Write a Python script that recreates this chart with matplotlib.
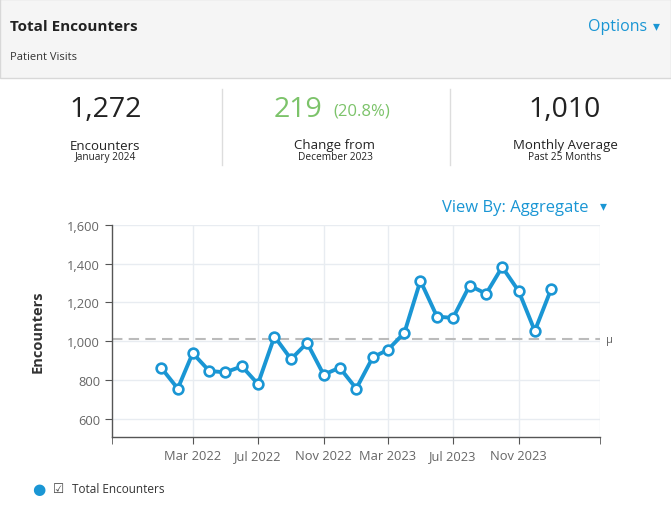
import matplotlib
matplotlib.use("Agg")
import matplotlib.pyplot as plt
from matplotlib.patches import Rectangle
from datetime import datetime
import numpy as np

plt.rcParams['font.family'] = ['Open Sans', 'DejaVu Sans']

# data
months = [datetime(2022, m, 1) for m in range(1, 13)] + \
         [datetime(2023, m, 1) for m in range(1, 13)] + [datetime(2024, 1, 1)]
encounters = [863, 755, 938, 846, 839, 870, 779, 1024, 907, 991, 827, 863,
              755, 917, 955, 1043, 1312, 1127, 1120, 1287, 1245, 1383, 1258, 1053, 1272]
tick_dates = [datetime(2022, 3, 1), datetime(2022, 7, 1), datetime(2022, 11, 1),
              datetime(2023, 3, 1), datetime(2023, 7, 1), datetime(2023, 11, 1)]
tick_labels = ["Mar 2022", "Jul 2022", "Nov 2022", "Mar 2023", "Jul 2023", "Nov 2023"]
y_ticks = [600, 800, 1000, 1200, 1400, 1600]

W, H = 671, 506
fig = plt.figure(figsize=(W / 100, H / 100), dpi=100)


def px(x, y):
    return x / W, 1 - y / H


BLUE = '#1a96d4'
GREEN = '#7cc36a'
DARK = '#222222'

# header panel
fig.patches.append(Rectangle(px(0, 79), 1, 79 / H, transform=fig.transFigure,
                             facecolor='#f5f5f5', edgecolor='#d8d8d8', lw=1))
fig.text(*px(10, 27), "Total Encounters", fontsize=11, fontweight='bold', color=DARK, va='center')
fig.text(*px(647, 27), "Options", fontsize=11.5, color=BLUE, va='center', ha='right')
fig.text(*px(660, 26), "\u25be", fontsize=10, color=BLUE, va='center', ha='right', family='DejaVu Sans')
fig.text(*px(10, 57), "Patient Visits", fontsize=8, color='#333333', va='center')

# stats row
fig.text(*px(106, 110), "1,272", fontsize=20.5, color=DARK, va='center', ha='center')
fig.text(*px(105, 146), "Encounters", fontsize=9.5, color=DARK, va='center', ha='center')
fig.text(*px(105, 158), "January 2024", fontsize=7.3, color=DARK, va='center', ha='center')

fig.text(*px(298, 110), "219", fontsize=20.5, color=GREEN, va='center', ha='center')
fig.text(*px(362, 112), "(20.8%)", fontsize=12, color=GREEN, va='center', ha='center')
fig.text(*px(335, 146), "Change from", fontsize=9.5, color=DARK, va='center', ha='center')
fig.text(*px(335, 158), "December 2023", fontsize=7.3, color=DARK, va='center', ha='center')

fig.text(*px(565, 110), "1,010", fontsize=20.5, color=DARK, va='center', ha='center')
fig.text(*px(565, 146), "Monthly Average", fontsize=9.5, color=DARK, va='center', ha='center')
fig.text(*px(565, 158), "Past 25 Months", fontsize=7.3, color=DARK, va='center', ha='center')

for xs in (222, 450):
    fig.add_artist(plt.Line2D([xs / W, xs / W], [1 - 90 / H, 1 - 166 / H],
                              transform=fig.transFigure, color='#dddddd', lw=1))

fig.text(*px(588, 208), "View By: Aggregate", fontsize=12, color=BLUE, va='center', ha='right')
fig.text(*px(607, 206), "\u25be", fontsize=10, color=BLUE, va='center', ha='right', family='DejaVu Sans')

# chart
ax = fig.add_axes([112 / W, 1 - 438 / H, (600 - 112) / W, (438 - 226) / H])
ax.plot(months, encounters, color=BLUE, lw=2.8, marker='o', ms=7,
        mfc='white', mec=BLUE, mew=1.9, zorder=3)
ax.axhline(np.mean(encounters), color='#bbbbbb', lw=1.5, ls=(0, (5, 3)), zorder=2)
ax.text(1.012, np.mean(encounters), "\u03bc", transform=ax.get_yaxis_transform(),
        fontsize=8, color='#666666', va='center', ha='left')

ax.set_xlim(datetime(2021, 10, 1), datetime(2024, 4, 1))
ax.set_ylim(505, 1600)
ax.set_xticks(tick_dates)
ax.set_xticklabels(tick_labels)
ax.set_xticks([datetime(2021, 10, 1), datetime(2024, 4, 1)], minor=True)
ax.set_yticks(y_ticks)
ax.set_yticklabels([f"{v:,}" for v in y_ticks])
ax.grid(True, color='#e8ecf1', lw=1)
ax.set_axisbelow(True)
for s in ('top', 'right'):
    ax.spines[s].set_visible(False)
for s in ('left', 'bottom'):
    ax.spines[s].set_color('#555555')
    ax.spines[s].set_linewidth(1)
ax.axvline(datetime(2024, 4, 1), color='#e8ecf1', lw=1, zorder=0)
ax.tick_params(axis='both', which='both', colors='#555555', labelcolor='#666666', labelsize=9.3, length=5)
ax.set_ylabel("Encounters", fontsize=10.5, fontweight='bold', color='#333333', labelpad=16)

# legend
fig.text(*px(39, 490), "\u25cf", fontsize=11, color=BLUE, va='center', ha='center', family='DejaVu Sans')
fig.text(*px(59, 489), "\u2611", fontsize=9, color='#444444', va='center', ha='center', family='DejaVu Sans')
fig.text(*px(72, 490), "Total Encounters", fontsize=8.5, color='#333333', va='center', ha='left')

fig.savefig("out.png", dpi=100)
